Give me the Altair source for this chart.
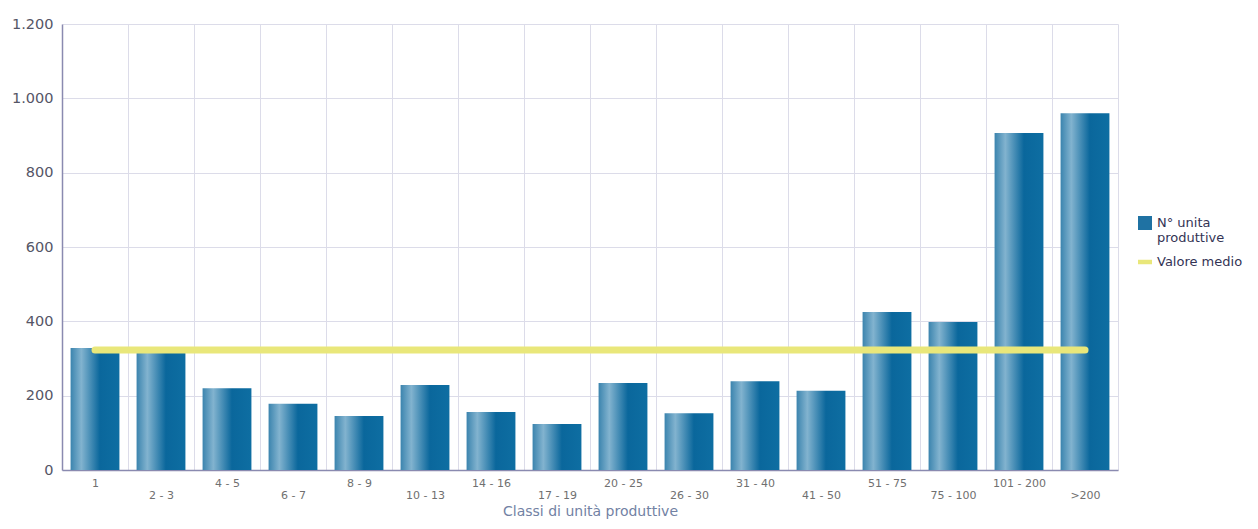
import altair as alt
import pandas as pd

categories = ["1", "2 - 3", "4 - 5", "6 - 7", "8 - 9", "10 - 13", "14 - 16", "17 - 19",
              "20 - 25", "26 - 30", "31 - 40", "41 - 50", "51 - 75", "75 - 100", "101 - 200", ">200"]
values = [328, 315, 220, 178, 145, 229, 156, 124, 234, 153, 239, 213, 425, 398, 907, 960]
mean_value = 323
series = ["N° unita produttive", "Valore medio"]
y_ticks = [0, 200, 400, 600, 800, 1000, 1200]

df = pd.DataFrame({"classe": categories, "valore": values})
mean_df = pd.DataFrame({"start": [categories[0]], "end": [categories[-1]], "media": [mean_value]})
leg_df = pd.DataFrame({"serie": series, "classe": [categories[0]] * 2, "valore": [0, 0]})

odd = "[" + ",".join("'" + c + "'" for c in categories[1::2]) + "]"

FONT = "DejaVu Sans"
STEP = 1056 / len(categories)

x_scale = alt.Scale(domain=categories, paddingInner=0.26, paddingOuter=0.13)
y_scale = alt.Scale(domain=[0, 1200])

x_axis = alt.Axis(
    title="Classi di unità produttive",
    titleFont=FONT, titleFontSize=14, titleFontWeight="normal", titleColor="#7282a4",
    titlePadding=4,
    labelAngle=0, labelFont=FONT, labelFontSize=11, labelColor="#707070",
    labelExpr="indexof(" + odd + ", datum.value) >= 0 ? ['', datum.label] : datum.label",
    labelLineHeight=12, labelPadding=7, labelBaseline="top",
    ticks=False, tickOffset=STEP / 2, labelOffset=-STEP / 2,
    grid=True, gridColor="#dcdce9",
    domainColor="#8a8ab0", domainWidth=1.5,
)
y_axis = alt.Axis(
    title=None, values=y_ticks,
    labelExpr="replace(format(datum.value, ','), ',', '.')",
    labelFont=FONT, labelFontSize=14.5, labelColor="#555566", labelPadding=9,
    ticks=False, grid=True, gridColor="#dcdce9",
    domainColor="#8a8ab0", domainWidth=1.5,
)

gradient = alt.Gradient(
    gradient="linear", x1=0, x2=1, y1=0, y2=0,
    stops=[
        alt.GradientStop(offset=0, color="#3b84ae"),
        alt.GradientStop(offset=0.22, color="#82b3cf"),
        alt.GradientStop(offset=0.6, color="#0a679c"),
        alt.GradientStop(offset=1, color="#0e6ea2"),
    ],
)

bars = alt.Chart(df).mark_bar(fill=gradient).encode(
    x=alt.X("classe:N", scale=x_scale, axis=x_axis),
    y=alt.Y("valore:Q", scale=y_scale, axis=y_axis),
)

mean_rule = alt.Chart(mean_df).mark_rule(color="#e9e77a", strokeWidth=7, strokeCap="round").encode(
    x=alt.X("start:N", scale=x_scale),
    x2="end:N",
    y=alt.Y("media:Q", scale=y_scale),
)

leg = alt.Legend(
    title=None, orient="none", legendX=1076, legendY=192,
    labelFont=FONT, labelFontSize=13, labelColor="#333355",
    labelExpr="datum.label == 'N° unita produttive' ? ['N° unita', 'produttive'] : datum.label",
    symbolSize=196, symbolOpacity=1, symbolStrokeWidth=0, rowPadding=10, labelOffset=5,
    labelLimit=200,
)
legend_layer = alt.Chart(leg_df).mark_point(filled=True, opacity=0).encode(
    x=alt.X("classe:N", scale=x_scale),
    y=alt.Y("valore:Q", scale=y_scale),
    color=alt.Color("serie:N", scale=alt.Scale(domain=series, range=["#1f72a3", "#e9e77a"]), legend=leg),
    shape=alt.Shape("serie:N", scale=alt.Scale(domain=series, range=["square", "M-1,-0.32H1V0.32H-1Z"]), legend=leg),
)

chart = alt.layer(bars, mean_rule, legend_layer).properties(
    width=1056, height=446,
    autosize=alt.AutoSizeParams(type="none"),
    padding={"left": 54, "top": 16, "right": 132, "bottom": 51},
).configure_view(stroke=None)

chart.save("out.html", embed_options={"renderer": "svg", "actions": False})
